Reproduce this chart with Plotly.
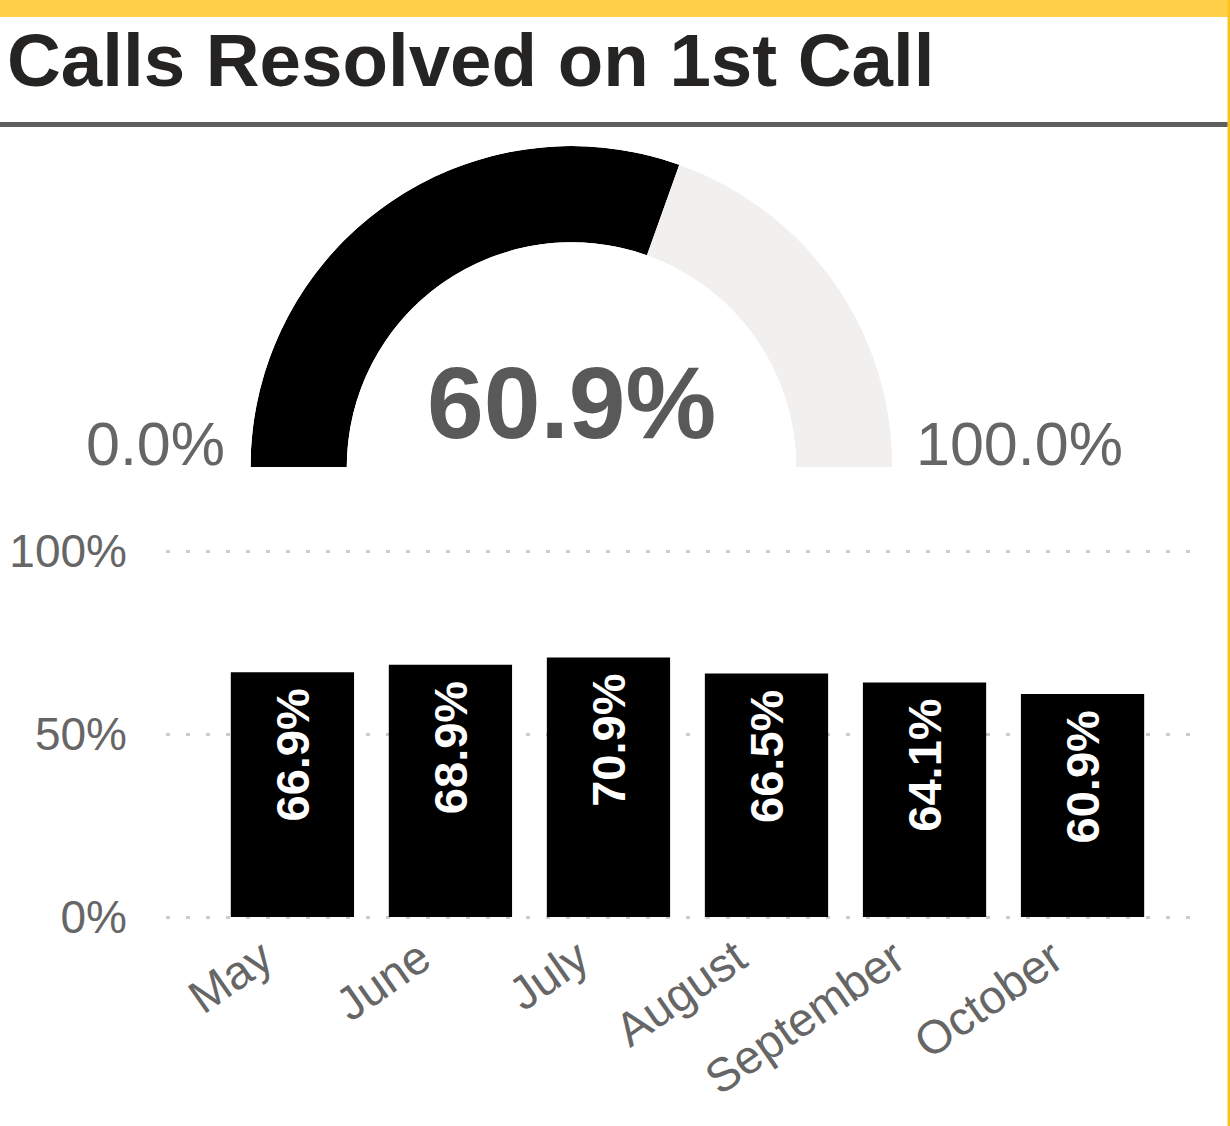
import plotly.graph_objects as go

# ---- data ----
months = ["May", "June", "July", "August", "September", "October"]
resolved_pct = [66.9, 68.9, 70.9, 66.5, 64.1, 60.9]
gauge_value = 60.9
gauge_min = 0.0
gauge_max = 100.0
y_ticks = [0, 50, 100]
y_tick_labels = ["0%", "50%", "100%"]
title_text = "Calls Resolved on 1st Call"

W, H = 1230, 1126
def px_x(x):
    return x / W
def px_y(y):
    return 1 - y / H

font_family = "Liberation Sans, Arial, sans-serif"

fig = go.Figure()

# ---- gauge (half donut via barpolar) ----
span = 180.0
frac = (gauge_value - gauge_min) / (gauge_max - gauge_min)
fill_w = frac * span
rest_w = span - fill_w
fig.add_trace(go.Barpolar(
    r=[1, 1],
    theta=[fill_w / 2, fill_w + rest_w / 2],
    width=[fill_w, rest_w],
    base=0,
    marker=dict(color=["#000000", "#F1F0EE"], line=dict(width=0)),
    subplot="polar",
    hoverinfo="skip",
    showlegend=False,
))

# ---- monthly bars ----
fig.add_trace(go.Bar(
    x=months,
    y=resolved_pct,
    marker=dict(color="#000000", line=dict(width=0)),
    text=[f"{v:.1f}%\u00a0" for v in resolved_pct],
    textposition="inside",
    insidetextanchor="end",
    textangle=-90,
    textfont=dict(family=font_family, size=47, color="white", weight="bold"),
    xaxis="x", yaxis="y",
    showlegend=False,
    hoverinfo="skip",
))

# y pixel mapping: 0 -> 917, 100 -> 551 ; extend range slightly so edge gridlines draw
ppu = (917 - 551) / 100.0
y_lo, y_hi = -1.0, 101.0

fig.update_layout(
    width=W, height=H,
    margin=dict(l=0, r=0, t=0, b=0),
    paper_bgcolor="white",
    plot_bgcolor="white",
    font=dict(family=font_family, color="#666666"),
    bargap=0.22,
    polar=dict(
        domain=dict(x=[px_x(250.5), px_x(892.5)], y=[px_y(467), px_y(146)]),
        sector=[0, 180],
        hole=0.70,
        bgcolor="white",
        angularaxis=dict(visible=False, rotation=180, direction="clockwise"),
        radialaxis=dict(visible=False, range=[0, 1]),
    ),
    xaxis=dict(
        domain=[px_x(166), px_x(1190)],
        range=[-0.8, 5.68],
        showgrid=False, zeroline=False, showline=False,
        tickangle=-35,
        tickfont=dict(size=47, color="#666666"),
        ticklabelshift=-30,
        automargin=False,
        anchor="y",
    ),
    yaxis=dict(
        domain=[px_y(917 - y_lo * ppu), px_y(551 - (y_hi - 100) * ppu)],
        range=[y_lo, y_hi],
        tickvals=y_ticks,
        ticktext=y_tick_labels,
        showgrid=True,
        gridcolor="#CCCCCC",
        gridwidth=3,
        griddash="4px,16px",
        zeroline=False, showline=False,
        tickfont=dict(size=46, color="#666666"),
        ticklabelstandoff=38,
        automargin=False,
        anchor="x",
    ),
)

# ---- decorations ----
fig.add_shape(type="rect", xref="paper", yref="paper",
              x0=0, x1=1, y0=px_y(17), y1=1,
              fillcolor="#FFD04A", line=dict(width=0), layer="above")
fig.add_shape(type="rect", xref="paper", yref="paper",
              x0=px_x(1227.5), x1=1, y0=0, y1=1,
              fillcolor="#FFC21A", line=dict(width=0), layer="above")
fig.add_shape(type="rect", xref="paper", yref="paper",
              x0=0, x1=px_x(1227.5), y0=px_y(127), y1=px_y(122),
              fillcolor="#5F5F5F", line=dict(width=0), layer="above")

# ---- texts ----
fig.add_annotation(text=f"<b>{title_text}</b>", xref="paper", yref="paper",
                   x=px_x(5), y=px_y(60), xanchor="left", yanchor="middle",
                   showarrow=False, font=dict(size=74.5, color="#252423", family=font_family))
fig.add_annotation(text=f"<b>{gauge_value:.1f}%</b>", xref="paper", yref="paper",
                   x=px_x(571.5), y=px_y(403), xanchor="center", yanchor="middle",
                   showarrow=False, font=dict(size=102, color="#595959", family=font_family))
fig.add_annotation(text=f"{gauge_min:.1f}%", xref="paper", yref="paper",
                   x=px_x(227), y=px_y(444), xanchor="right", yanchor="middle",
                   showarrow=False, font=dict(size=61, color="#666666", family=font_family))
fig.add_annotation(text=f"{gauge_max:.1f}%", xref="paper", yref="paper",
                   x=px_x(914), y=px_y(444), xanchor="left", yanchor="middle",
                   showarrow=False, font=dict(size=61, color="#666666", family=font_family))

fig.write_html("out.html", config={"displayModeBar": False},
               post_script="document.body.style.margin='0';document.body.style.overflow='hidden';")
